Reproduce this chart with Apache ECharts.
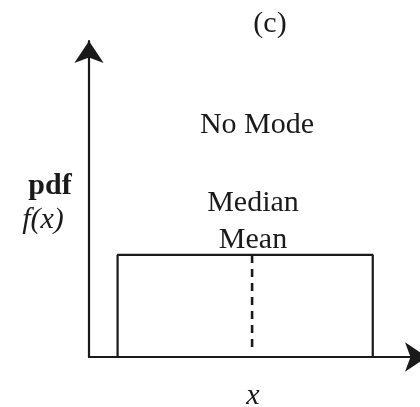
<!DOCTYPE html>
<html>
<head>
<meta charset="utf-8">
<style>html,body{margin:0;padding:0;background:#fff}#c{width:420px;height:407px}</style>
<script src="https://cdn.jsdelivr.net/npm/echarts@6/dist/echarts.min.js"></script>
</head>
<body>
<div id="c"></div>
<script>
// Uniform pdf: support bounds and constant density
const rectX = [0.95, 0.95, 9.43, 9.43];
const rectY = [0, 3.23, 3.23, 0];
// Median / mean marker (dashed)
const meanX = [5.42, 5.42];
const meanY = [3.23, 0.28];
const labels = { title: '(c)', mode: 'No Mode', median: 'Median', mean: 'Mean', yName1: 'pdf', yName2: 'f(x)', xName: 'x' };

const ink = '#1a1a1a';
const font = '"Liberation Serif", "Times New Roman", serif';
const chart = echarts.init(document.getElementById('c'), null, { renderer: 'canvas' });
chart.setOption({
  animation: false,
  backgroundColor: '#fff',
  grid: { left: 89, right: 0, top: 41, bottom: 50, containLabel: false },
  xAxis: {
    type: 'value', min: 0, max: 11,
    axisLine: { show: true, symbol: ['none', 'arrow'], symbolSize: [22, 22], symbolOffset: [0, 7], lineStyle: { color: ink, width: 2.2 } },
    axisTick: { show: false }, axisLabel: { show: false }, splitLine: { show: false }
  },
  yAxis: {
    type: 'value', min: 0, max: 10,
    axisLine: { show: true, symbol: ['none', 'arrow'], symbolSize: [22, 22], lineStyle: { color: ink, width: 2.2 } },
    axisTick: { show: false }, axisLabel: { show: false }, splitLine: { show: false }
  },
  series: [
    {
      type: 'line', symbol: 'none', silent: true,
      data: rectX.map((x, i) => [x, rectY[i]]),
      lineStyle: { color: ink, width: 2.2 }
    },
    {
      type: 'line', symbol: 'none', silent: true,
      data: meanX.map((x, i) => [x, meanY[i]]),
      lineStyle: { color: ink, width: 2.6, type: [8, 6] }
    }
  ],
  graphic: [
    { type: 'text', x: 270, y: 24, style: { text: labels.title, font: '30px ' + font, fill: ink, align: 'center', verticalAlign: 'middle' } },
    { type: 'text', x: 257, y: 125, style: { text: labels.mode, font: '30px ' + font, fill: ink, align: 'center', verticalAlign: 'middle' } },
    { type: 'text', x: 253, y: 203, style: { text: labels.median, font: '30px ' + font, fill: ink, align: 'center', verticalAlign: 'middle' } },
    { type: 'text', x: 253, y: 240, style: { text: labels.mean, font: '30px ' + font, fill: ink, align: 'center', verticalAlign: 'middle' } },
    { type: 'text', x: 50, y: 186, style: { text: labels.yName1, font: 'bold 30px ' + font, fill: ink, align: 'center', verticalAlign: 'middle' } },
    { type: 'text', x: 43, y: 220, style: { text: labels.yName2, font: 'italic 30px ' + font, fill: ink, align: 'center', verticalAlign: 'middle' } },
    { type: 'text', x: 253, y: 396, style: { text: labels.xName, font: 'italic 30px ' + font, fill: ink, align: 'center', verticalAlign: 'middle' } }
  ]
});
</script>
</body>
</html>
